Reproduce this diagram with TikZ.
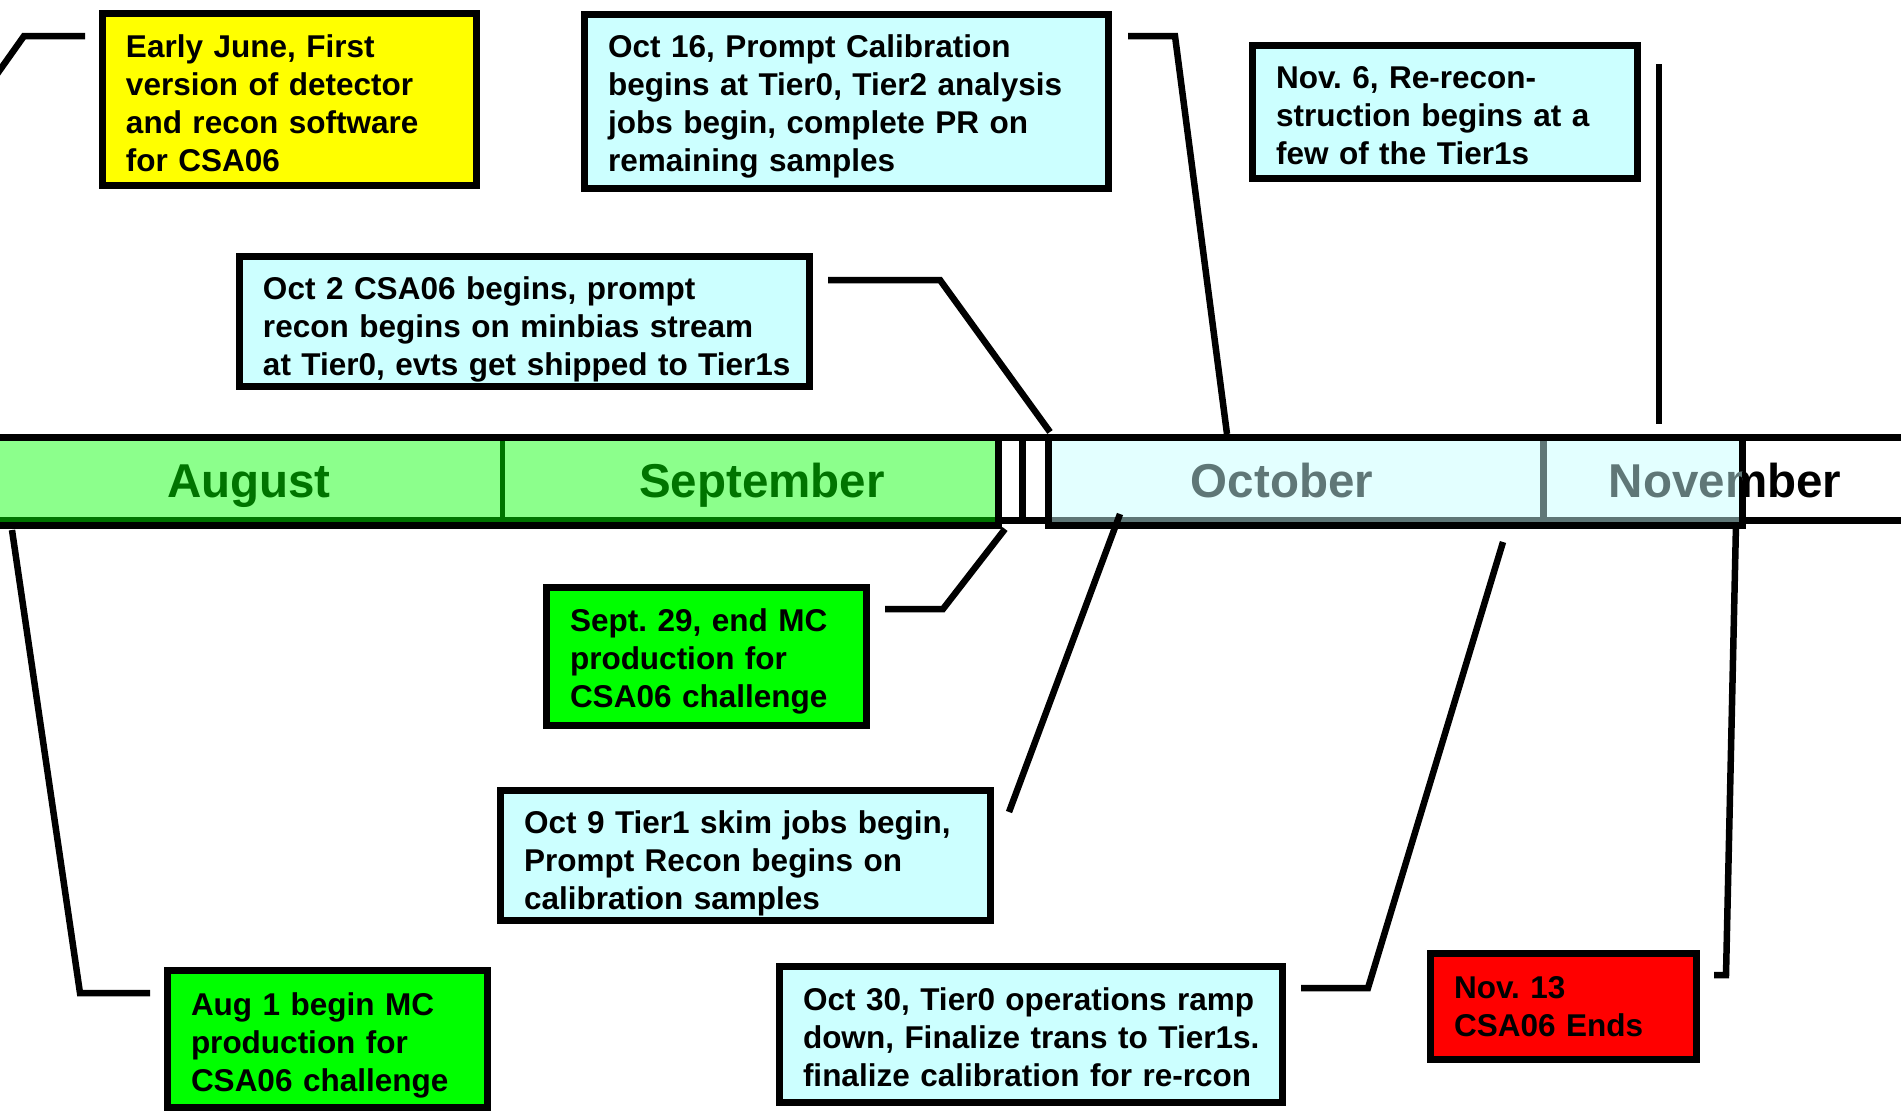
\documentclass[tikz,border=0pt]{standalone}
\usepackage{fontspec}
\setmainfont{Liberation Sans}
\frenchspacing

\definecolor{boxCyan}{HTML}{CCFFFF}
\definecolor{boxYellow}{HTML}{FFFF00}
\definecolor{boxGreen}{HTML}{00FF00}
\definecolor{boxRed}{HTML}{FF0000}
\definecolor{barGreen}{HTML}{8CFF8C}
\definecolor{barGreenDark}{HTML}{007400}
\definecolor{barCyan}{HTML}{E3FFFF}
\definecolor{barGrey}{HTML}{5F7777}

\newcommand\evfont{\fontsize{31.5bp}{38bp}\selectfont\bfseries}
\newcommand\monthfont{\fontsize{47.5bp}{57bp}\selectfont\bfseries}

\begin{document}
\begin{tikzpicture}[x=1bp,y=-1bp,
  evbox/.style={draw=black, line width=7bp, rectangle, inner xsep=23.5bp,
    inner ysep=0bp, align=left, font=\evfont},
  firstline/.style={execute at begin node={\rule{0pt}{#1}}},
  monthlbl/.style={anchor=base, inner sep=0pt, font=\monthfont},
  conn/.style={draw=black, line width=6.5bp, line join=miter}]

% canvas
\useasboundingbox (0,0) rectangle (1901,1110);
\fill[white] (0,0) rectangle (1901,1110);

% ---------------- timeline bar ----------------
\draw[line width=7bp, fill=white] (960,437) rectangle (1930,520);
\draw[line width=7bp] (1022,437) -- (1022,520);
% August / September block
\filldraw[fill=barGreen, draw=black, line width=7bp] (-20,437) rectangle (998,525);
\draw[barGreenDark, line width=5bp] (-10,519) -- (994.5,519);
\draw[barGreenDark, line width=5bp] (502,440.5) -- (502,519);
% October / November block
\filldraw[fill=barCyan, draw=black, line width=7bp] (1048,437) rectangle (1742,525);
\draw[barGrey, line width=5bp] (1051.5,519) -- (1738.5,519);
\draw[barGrey, line width=7bp] (1543,440.5) -- (1543,519);

% month names
\node[monthlbl, text=barGreenDark] (aug) at (249,497) {August};
\node[monthlbl, text=barGreenDark] (sep) at (762,497) {September};
\node[monthlbl, text=barGrey] (oct) at (1282,497) {October};
\begin{scope}
  \clip (1051,440) rectangle (1742,521);
  \node[monthlbl, text=barGrey] (novin) at (1725,497) {November};
\end{scope}
\begin{scope}
  \clip (1742,420) rectangle (1910,530);
  \node[monthlbl, text=black] (novout) at (1725,497) {November};
\end{scope}

% ---------------- event boxes ----------------
\node[evbox, fill=boxYellow, minimum width=374bp, minimum height=172bp, text width=327bp, firstline=31bp]
  (june) at (289.5,99.5)
  {\mbox{Early June, First}\\\mbox{version of detector}\\\mbox{and recon software}\\\mbox{for CSA06}};

\node[evbox, fill=boxCyan, minimum width=524bp, minimum height=174bp, text width=477bp, firstline=33bp]
  (oct16) at (846.5,101.5)
  {\mbox{Oct 16, Prompt Calibration}\\\mbox{begins at Tier0, Tier2 analysis}\\\mbox{jobs begin, complete PR on}\\\mbox{remaining samples}};

\node[evbox, fill=boxCyan, minimum width=385bp, minimum height=133bp, text width=338bp, firstline=29bp]
  (nov6) at (1445,112)
  {\mbox{Nov. 6, Re-recon-}\\\mbox{struction begins at a}\\\mbox{few of the Tier1s}};

\node[evbox, fill=boxCyan, minimum width=570bp, minimum height=130bp, text width=523bp, firstline=39bp]
  (oct2) at (524.5,321.5)
  {\mbox{Oct 2 CSA06 begins, prompt}\\\mbox{recon begins on minbias stream}\\\mbox{at Tier0, evts get shipped to Tier1s}};

\node[evbox, fill=boxGreen, minimum width=320bp, minimum height=138bp, text width=273bp, firstline=33bp]
  (sep29) at (706.5,656.5)
  {\mbox{Sept. 29, end MC}\\\mbox{production for}\\\mbox{CSA06 challenge}};

\node[evbox, fill=boxCyan, minimum width=490bp, minimum height=130bp, text width=443bp, firstline=39bp]
  (oct9) at (745.5,855.5)
  {\mbox{Oct 9 Tier1 skim jobs begin,}\\\mbox{Prompt Recon begins on}\\\mbox{calibration samples}};

\node[evbox, fill=boxGreen, minimum width=320bp, minimum height=137bp, text width=273bp, firstline=35bp]
  (aug1) at (327.5,1039)
  {\mbox{Aug 1 begin MC}\\\mbox{production for}\\\mbox{CSA06 challenge}};

\node[evbox, fill=boxCyan, minimum width=503bp, minimum height=136bp, text width=456bp, firstline=29bp]
  (oct30) at (1031,1034.5)
  {\mbox{Oct 30, Tier0 operations ramp}\\\mbox{down, Finalize trans to Tier1s.}\\\mbox{finalize calibration for re-rcon}};

\node[evbox, fill=boxRed, minimum width=266bp, minimum height=106bp, text width=219bp]
  (nov13) at (1563.5,1006.5)
  {\mbox{Nov. 13}\\\mbox{CSA06 Ends}};

% ---------------- connector points ----------------
\coordinate (juneA) at (85,36);     \coordinate (juneB) at (24,36);    \coordinate (juneC) at (-10,84);
\coordinate (oct16A) at (1128,36);  \coordinate (oct16B) at (1175,36); \coordinate (oct16C) at (1227,434);
\coordinate (nov6A) at (1659,64);   \coordinate (nov6C) at (1659,424);
\coordinate (oct2A) at (828,280);   \coordinate (oct2B) at (940,280);  \coordinate (oct2C) at (1050,432);
\coordinate (sep29A) at (885,609);  \coordinate (sep29B) at (943,609); \coordinate (sep29C) at (1005,529);
\coordinate (oct9A) at (1009,812);  \coordinate (oct9C) at (1120,514);
\coordinate (oct30A) at (1301,988); \coordinate (oct30B) at (1368,988); \coordinate (oct30C) at (1503,542);
\coordinate (nov13A) at (1714,975); \coordinate (nov13B) at (1726,975); \coordinate (nov13C) at (1736,524);
\coordinate (aug1A) at (150,993);   \coordinate (aug1B) at (80,993);   \coordinate (aug1C) at (12,530);

% ---------------- connectors ----------------
\draw[conn] (juneA) -- (juneB) -- (juneC);
\draw[conn] (oct16A) -- (oct16B) -- (oct16C);
\draw[conn] (nov6A) -- (nov6C);
\draw[conn] (oct2A) -- (oct2B) -- (oct2C);
\draw[conn] (sep29A) -- (sep29B) -- (sep29C);
\draw[conn] (oct9A) -- (oct9C);
\draw[conn] (oct30A) -- (oct30B) -- (oct30C);
\draw[conn] (nov13A) -- (nov13B) -- (nov13C);
\draw[conn] (aug1A) -- (aug1B) -- (aug1C);
\end{tikzpicture}
\end{document}
